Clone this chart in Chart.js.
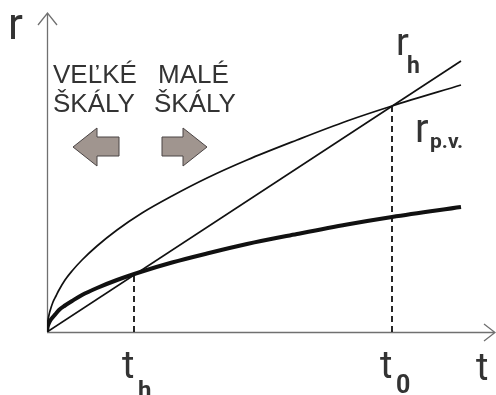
<!DOCTYPE html>
<html>
<head>
<meta charset="utf-8">
<script src="https://cdn.jsdelivr.net/npm/chart.js@4.4.1/dist/chart.umd.min.js"></script>
<style>
  html, body { margin: 0; padding: 0; background: #fff; }
  #wrap { width: 496px; height: 395px; }
</style>
</head>
<body>
<div id="wrap"><canvas id="chart" width="496" height="395"></canvas></div>
<script>
// values (t and r in plot units, origin at 0,0)
const tPoints = [0, 0.5, 1, 2, 3, 6, 9, 12, 18, 25, 35, 50, 70, 95, 125, 160, 200, 250, 300, 345, 414];
const rPV = [0, 9, 12, 17, 21, 30, 36, 42, 52, 61, 72, 86, 102, 119, 136, 154, 172, 192, 211, 226, 247];   // thin curve r_p.v.
const rThick = [0, 4.5, 6.5, 9, 11, 15, 18.5, 22, 26.5, 31, 37, 44, 52, 60.5, 69.5, 78.5, 88, 98, 107.5, 115, 125]; // thick curve
const rHline = [{ x: 0, y: 0 }, { x: 414, y: 271 }];                                                         // straight line r_h
const tH = 87, rAtTh = 57;
const t0 = 345, rAtT0 = 226;
const tMax = 448, rMax = 319;

const toXY = (ys) => tPoints.map((t, i) => ({ x: t, y: ys[i] }));

const INK = '#111';
const TEXT = '#333';
const AXIS = '#707070';
const FONT = 'Roboto, "Liberation Sans", Arial, sans-serif';
const CAPS = '"Liberation Sans", Arial, sans-serif';

// axes with open arrowheads, drawn under the curves
const axesPlugin = {
  id: 'axesArrows',
  beforeDatasetsDraw(chart) {
    const { ctx, chartArea: a } = chart;
    ctx.save();
    ctx.strokeStyle = AXIS;
    ctx.lineWidth = 1.3;
    ctx.beginPath();
    ctx.moveTo(a.left + 0.5, a.bottom);
    ctx.lineTo(a.left + 0.5, a.top);
    ctx.moveTo(a.left - 9, a.top + 12);
    ctx.lineTo(a.left + 0.5, a.top);
    ctx.lineTo(a.left + 10, a.top + 12);
    ctx.moveTo(a.left, a.bottom + 0.5);
    ctx.lineTo(a.right, a.bottom + 0.5);
    ctx.moveTo(a.right - 11, a.bottom - 8);
    ctx.lineTo(a.right, a.bottom + 0.5);
    ctx.lineTo(a.right - 11, a.bottom + 9);
    ctx.stroke();
    ctx.restore();
  }
};

function blockArrow(ctx, tipX, baseX, cy) {
  const dir = tipX < baseX ? 1 : -1;
  const headX = tipX + dir * 24;
  ctx.beginPath();
  ctx.moveTo(tipX, cy);
  ctx.lineTo(headX, cy - 19);
  ctx.lineTo(headX, cy - 10);
  ctx.lineTo(baseX, cy - 10);
  ctx.lineTo(baseX, cy + 9);
  ctx.lineTo(headX, cy + 9);
  ctx.lineTo(headX, cy + 19);
  ctx.closePath();
  ctx.fillStyle = '#a0958f';
  ctx.fill();
  ctx.strokeStyle = '#4a4444';
  ctx.lineWidth = 1;
  ctx.stroke();
}

function label(ctx, main, sub, x, y, size, subSize, subDx, subDy) {
  ctx.font = size + 'px ' + FONT;
  ctx.fillText(main, x, y);
  if (sub) {
    ctx.font = 'bold ' + subSize + 'px ' + FONT;
    ctx.fillText(sub, x + subDx, y + subDy);
  }
}

const textPlugin = {
  id: 'texts',
  afterDraw(chart) {
    const { ctx } = chart;
    const xs = chart.scales.x;
    ctx.save();
    ctx.fillStyle = TEXT;
    ctx.textBaseline = 'alphabetic';
    ctx.textAlign = 'left';

    label(ctx, 'r', null, 8, 39, 44);
    label(ctx, 't', null, 476, 380, 38);
    label(ctx, 't', 'h', xs.getPixelForValue(tH) - 12, 378, 38, 24, 16, 20);
    label(ctx, 't', '0', xs.getPixelForValue(t0) - 12, 378, 38, 25, 16, 15);
    label(ctx, 'r', 'h', 396, 55, 38, 23, 11, 18);
    label(ctx, 'r', 'p.v.', 415, 142, 40, 21, 15, 6);

    ctx.font = '26px ' + CAPS;
    ctx.fillText('VEĽKÉ', 53, 83);
    ctx.fillText('MALÉ', 158, 83);
    ctx.fillText('ŠKÁLY', 53, 112);
    ctx.fillText('ŠKÁLY', 154, 112);

    blockArrow(ctx, 73, 119, 147);
    blockArrow(ctx, 207, 162, 147);
    ctx.restore();
  }
};

new Chart(document.getElementById('chart'), {
  type: 'scatter',
  data: {
    datasets: [
      { label: 'r_h', data: rHline, showLine: true, borderColor: INK, borderWidth: 1.7, pointRadius: 0 },
      { label: 'r_p.v.', data: toXY(rPV), showLine: true, borderColor: INK, borderWidth: 1.7, pointRadius: 0, cubicInterpolationMode: 'monotone' },
      { label: 'thick', data: toXY(rThick), showLine: true, borderColor: INK, borderWidth: 4, pointRadius: 0, cubicInterpolationMode: 'monotone' },
      { label: 't_h', data: [{ x: tH, y: 0 }, { x: tH, y: rAtTh }], showLine: true, borderColor: INK, borderWidth: 1.8, borderDash: [6, 4], pointRadius: 0 },
      { label: 't_0', data: [{ x: t0, y: 0 }, { x: t0, y: rAtT0 }], showLine: true, borderColor: INK, borderWidth: 1.8, borderDash: [6, 4], pointRadius: 0 },
    ]
  },
  options: {
    responsive: false,
    animation: false,
    layout: { padding: { left: 47, top: 13, right: 1, bottom: 63 } },
    scales: {
      x: { type: 'linear', min: 0, max: tMax, display: false },
      y: { type: 'linear', min: 0, max: rMax, display: false },
    },
    plugins: {
      legend: { display: false },
      tooltip: { enabled: false },
    },
  },
  plugins: [axesPlugin, textPlugin],
});
</script>
</body>
</html>
